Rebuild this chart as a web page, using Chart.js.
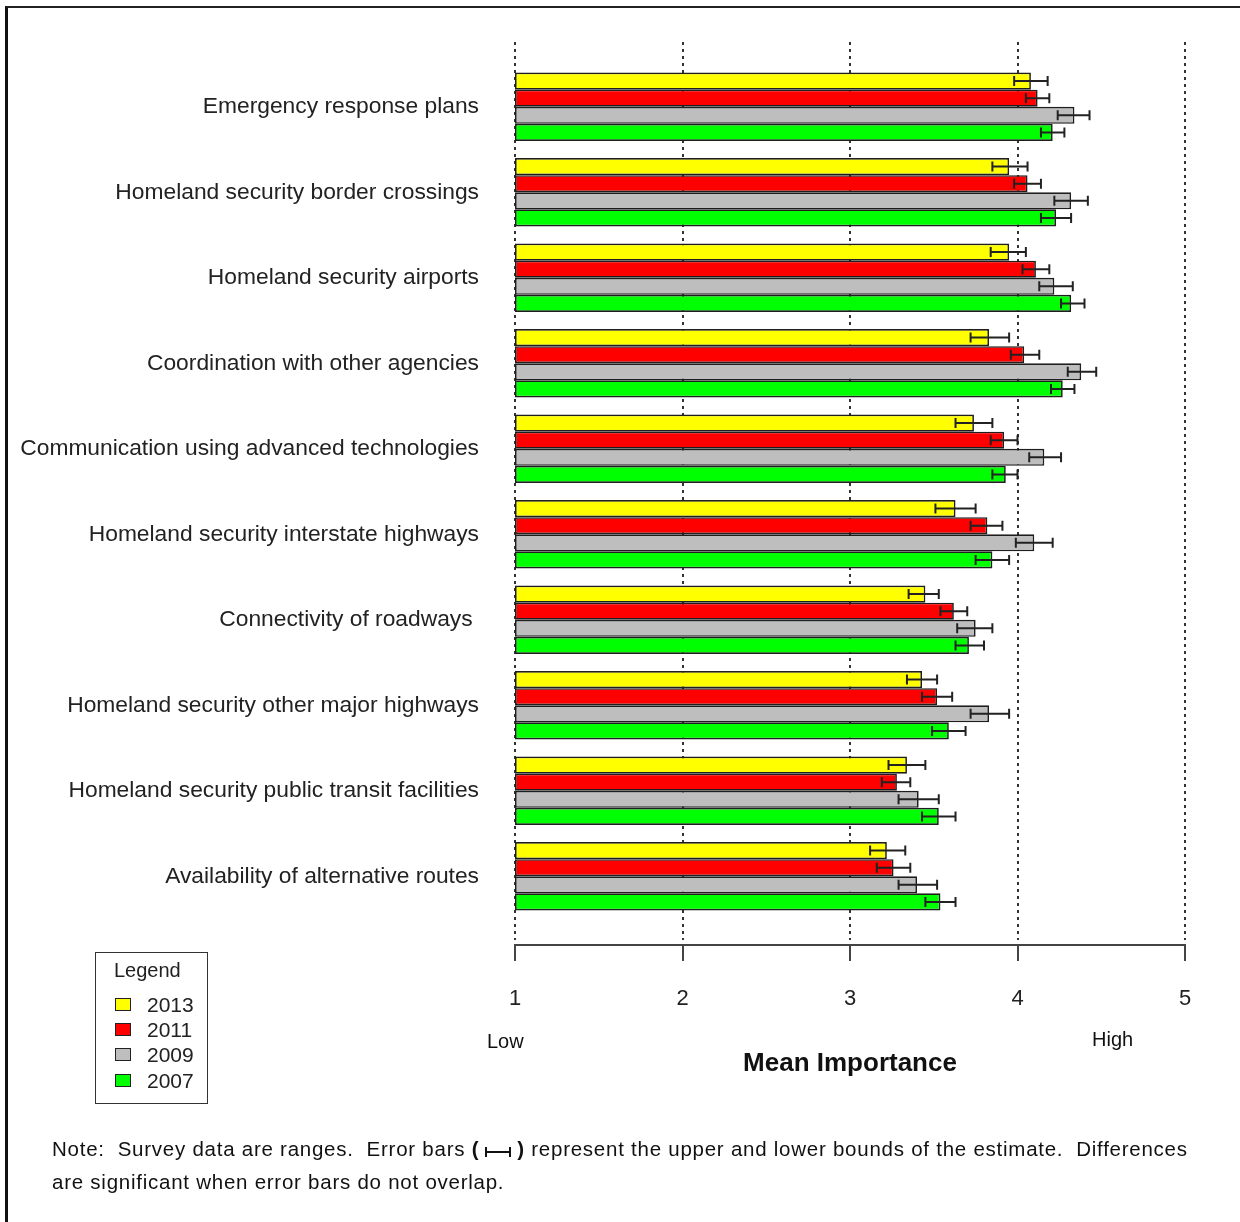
<!DOCTYPE html>
<html>
<head>
<meta charset="utf-8">
<script src="https://cdn.jsdelivr.net/npm/chart.js@4.4.1/dist/chart.umd.min.js"></script>
<style>
  body { margin:0; background:#fff; width:1240px; height:1222px; overflow:hidden; position:relative; font-family:"Liberation Sans", Arial, sans-serif; }
  #marco { position:absolute; left:5px; top:6px; width:1300px; height:1300px; border-left:3px solid #111; border-top:2px solid #222; }
  #myChart { position:absolute; left:0; top:0; }
  .txt { position:absolute; color:#111; }
  #leyenda { position:absolute; left:95px; top:952px; width:111px; height:150px; border:1.5px solid #333; }
  #leyenda .tit { position:absolute; left:18px; top:6px; font-size:20px; color:#222; }
  #leyenda .item { position:absolute; left:19px; font-size:21px; color:#222; }
  #leyenda .cuadro { display:inline-block; width:14px; height:11px; border:1.5px solid #222; margin-right:16px; vertical-align:1px; }
  .nota { position:absolute; left:52px; font-size:20.5px; letter-spacing:0.75px; color:#111; white-space:nowrap; }
  .eb { display:inline-block; width:22px; height:10px; border-left:2px solid #111; border-right:2px solid #111; position:relative; margin:0 6px; vertical-align:-1px; }
  .eb:after { content:""; position:absolute; left:0; right:0; top:4px; border-top:2px solid #111; }
</style>
</head>
<body>
<div id="marco"></div>
<canvas id="myChart" width="1240" height="1222"></canvas>

<div class="txt" style="left:487px; top:1030px; font-size:20px;">Low</div>
<div class="txt" style="left:1092px; top:1028px; font-size:20px;">High</div>

<div id="leyenda">
  <div class="tit">Legend</div>
  <div class="item" style="top:40px;"><span class="cuadro" style="background:#ffff00"></span>2013</div>
  <div class="item" style="top:65px;"><span class="cuadro" style="background:#ff0000"></span>2011</div>
  <div class="item" style="top:90px;"><span class="cuadro" style="background:#bebebe"></span>2009</div>
  <div class="item" style="top:116px;"><span class="cuadro" style="background:#00ff00"></span>2007</div>
</div>

<div class="nota" style="top:1137px;">Note:&nbsp; Survey data are ranges.&nbsp; Error bars <b>(</b><span class="eb"></span><b>)</b> represent the upper and lower bounds of the estimate.&nbsp; Differences</div>
<div class="nota" style="top:1170px;">are significant when error bars do not overlap.</div>

<script>
// categorias (de arriba a abajo)
let items=['Emergency response plans','Homeland security border crossings','Homeland security airports',
  'Coordination with other agencies','Communication using advanced technologies',
  'Homeland security interstate highways','Connectivity of roadways ',
  'Homeland security other major highways','Homeland security public transit facilities',
  'Availability of alternative routes'];

let anios=['2013','2011','2009','2007'];
let colores=['#ffff00','#ff0000','#bebebe','#00ff00'];

// medias por año
let media2013=[4.08,3.95,3.95,3.83,3.74,3.63,3.45,3.43,3.34,3.22];
let media2011=[4.12,4.06,4.11,4.04,3.92,3.82,3.62,3.52,3.28,3.26];
let media2009=[4.34,4.32,4.22,4.38,4.16,4.10,3.75,3.83,3.41,3.40];
let media2007=[4.21,4.23,4.32,4.27,3.93,3.85,3.71,3.59,3.53,3.54];

// limites inferior y superior (barras de error)
let bajo2013=[3.98,3.85,3.84,3.72,3.63,3.51,3.35,3.34,3.23,3.12];
let alto2013=[4.18,4.06,4.05,3.95,3.85,3.75,3.53,3.52,3.45,3.33];
let bajo2011=[4.05,3.98,4.03,3.96,3.84,3.72,3.54,3.43,3.19,3.16];
let alto2011=[4.19,4.14,4.19,4.13,4.00,3.91,3.70,3.61,3.36,3.36];
let bajo2009=[4.24,4.22,4.13,4.30,4.07,3.99,3.64,3.72,3.29,3.29];
let alto2009=[4.43,4.42,4.33,4.47,4.26,4.21,3.85,3.95,3.53,3.52];
let bajo2007=[4.14,4.14,4.26,4.20,3.85,3.75,3.63,3.49,3.43,3.45];
let alto2007=[4.28,4.32,4.40,4.34,4.00,3.95,3.80,3.69,3.63,3.63];

let marcas=[1,2,3,4,5];

let medias=[media2013,media2011,media2009,media2007];
let bajos=[bajo2013,bajo2011,bajo2009,bajo2007];
let altos=[alto2013,alto2011,alto2009,alto2007];

let sets=[];
for (let i=0;i<anios.length;i++){
    sets.push({
        label: anios[i],
        data: medias[i],
        base: 1,
        backgroundColor: colores[i],
        borderColor: '#1e1e1e',
        borderWidth: 1.7,
        borderSkipped: false,
        categoryPercentage: 0.8,
        barPercentage: 1.0
    });
}

// lineas punteadas y eje de abajo
let rejilla={
    id:'rejilla',
    beforeDatasetsDraw(chart){
        let ctx=chart.ctx, x=chart.scales.x, area=chart.chartArea;
        ctx.save();
        ctx.strokeStyle='#333';
        ctx.lineWidth=2;
        ctx.setLineDash([3,4]);
        for (let v of marcas){
            let px=Math.round(x.getPixelForValue(v));
            ctx.beginPath();
            ctx.moveTo(px,area.top-22);
            ctx.lineTo(px,area.bottom+21);
            ctx.stroke();
        }
        ctx.setLineDash([]);
        ctx.strokeStyle='#444';
        let yEje=area.bottom+26;
        ctx.beginPath();
        ctx.moveTo(x.getPixelForValue(1),yEje);
        ctx.lineTo(x.getPixelForValue(5),yEje);
        ctx.stroke();
        for (let v of marcas){
            let px=Math.round(x.getPixelForValue(v));
            ctx.beginPath();
            ctx.moveTo(px,yEje-1);
            ctx.lineTo(px,yEje+16);
            ctx.stroke();
        }
        ctx.restore();
    }
};

// barras de error
let errores={
    id:'errores',
    afterDatasetsDraw(chart){
        let ctx=chart.ctx, x=chart.scales.x;
        ctx.save();
        ctx.strokeStyle='#222';
        ctx.lineWidth=2;
        for (let i=0;i<sets.length;i++){
            let meta=chart.getDatasetMeta(i);
            meta.data.forEach(function(bar,j){
                let y=bar.y;
                let x1=x.getPixelForValue(bajos[i][j]);
                let x2=x.getPixelForValue(altos[i][j]);
                ctx.beginPath();
                ctx.moveTo(x1,y); ctx.lineTo(x2,y);
                ctx.moveTo(x1,y-5); ctx.lineTo(x1,y+5);
                ctx.moveTo(x2,y-5); ctx.lineTo(x2,y+5);
                ctx.stroke();
            });
        }
        ctx.restore();
    }
};

new Chart("myChart", {
    type: 'bar',
    data: {
        labels: items,
        datasets: sets
    },
    options: {
        indexAxis: 'y',
        responsive: false,
        animation: false,
        devicePixelRatio: 1,
        layout: { padding: { left: 0, right: 55, top: 64, bottom: 140 } },
        plugins: { legend: { display: false }, tooltip: { enabled: false } },
        scales: {
            x: {
                min: 1, max: 5,
                afterBuildTicks: function(s){ s.ticks=marcas.map(v=>({value:v})); },
                afterFit: function(s){ s.height=163; },
                // las marcas se dibujan en el plugin, aqui solo el hueco
                grid: { display: false, drawTicks: true, tickLength: 60 },
                border: { display: false },
                ticks: { color:'#222', padding: 7, font: { family:'Liberation Sans', size: 22 } },
                title: { display: true, text: 'Mean Importance', color:'#111', padding: { top: 0, bottom: 3 },
                         font: { family:'Liberation Sans', size: 26, weight: 'bold' } }
            },
            y: {
                afterFit: function(s){ s.width=515; },
                grid: { display: false },
                border: { display: false },
                ticks: { color:'#222', padding: 28, font: { family:'Liberation Sans', size: 22.8 } }
            }
        }
    },
    plugins: [rejilla, errores]
});
</script>
</body>
</html>
